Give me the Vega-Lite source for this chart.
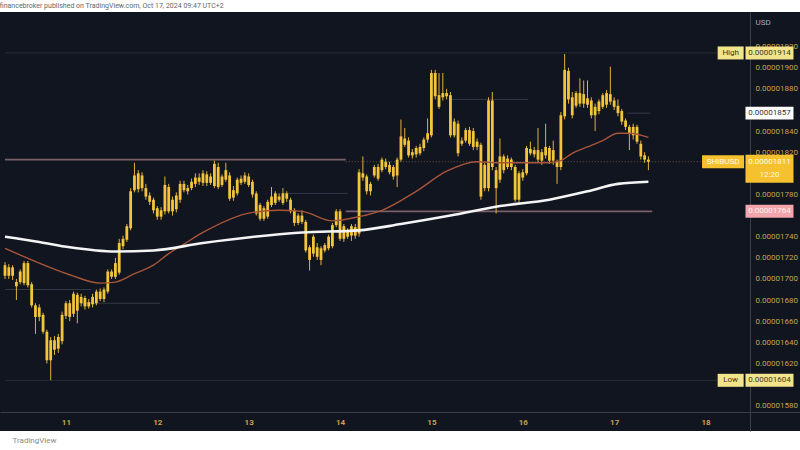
{
  "$schema": "https://vega.github.io/schema/vega-lite/v6.json",
  "width": 800,
  "height": 419,
  "autosize": {"type": "none"},
  "padding": {"left": 0, "top": 12, "right": 0, "bottom": 19},
  "background": "#ffffff",
  "config": {"view": {"fill": "#11151f", "stroke": null}, "font": "Roboto", "axis": {"labelOverlap": false}},
  "title": {"text": "financebroker published on TradingView.com, Oct 17, 2024 09:47 UTC+2", "anchor": "start", "fontSize": 7, "fontWeight": "normal", "color": "#666666", "offset": 3},
  "resolve": {"scale": {"color": "independent"}},
  "datasets": {
    "candles": [
      {"hour": -16, "open": 0.00001713, "high": 0.00001716, "low": 0.000017, "close": 0.00001703},
      {"hour": -15, "open": 0.00001703, "high": 0.00001714, "low": 0.000017, "close": 0.00001711},
      {"hour": -14, "open": 0.00001711, "high": 0.00001713, "low": 0.00001699, "close": 0.00001703},
      {"hour": -13, "open": 0.00001697, "high": 0.000017, "low": 0.0000168, "close": 0.00001693},
      {"hour": -12, "open": 0.00001697, "high": 0.00001709, "low": 0.00001695, "close": 0.00001707},
      {"hour": -11, "open": 0.00001696, "high": 0.00001717, "low": 0.00001694, "close": 0.00001715},
      {"hour": -10, "open": 0.00001715, "high": 0.00001717, "low": 0.00001692, "close": 0.00001694},
      {"hour": -9, "open": 0.00001695, "high": 0.00001697, "low": 0.00001673, "close": 0.00001675},
      {"hour": -8, "open": 0.00001675, "high": 0.00001677, "low": 0.00001648, "close": 0.00001664},
      {"hour": -7, "open": 0.00001664, "high": 0.00001676, "low": 0.0000166, "close": 0.00001673},
      {"hour": -6, "open": 0.00001666, "high": 0.00001668, "low": 0.00001648, "close": 0.0000165},
      {"hour": -5, "open": 0.0000165, "high": 0.00001652, "low": 0.0000162, "close": 0.00001623},
      {"hour": -4, "open": 0.00001623, "high": 0.00001645, "low": 0.00001604, "close": 0.00001642},
      {"hour": -3, "open": 0.00001642, "high": 0.00001646, "low": 0.00001628, "close": 0.00001633},
      {"hour": -2, "open": 0.00001634, "high": 0.00001648, "low": 0.0000163, "close": 0.00001645},
      {"hour": -1, "open": 0.00001641, "high": 0.00001669, "low": 0.00001638, "close": 0.00001666},
      {"hour": 0, "open": 0.00001665, "high": 0.00001679, "low": 0.00001662, "close": 0.00001677},
      {"hour": 1, "open": 0.00001677, "high": 0.0000168, "low": 0.0000166, "close": 0.00001664},
      {"hour": 2, "open": 0.00001667, "high": 0.00001688, "low": 0.00001664, "close": 0.00001686},
      {"hour": 3, "open": 0.00001685, "high": 0.00001687, "low": 0.00001658, "close": 0.0000167},
      {"hour": 4, "open": 0.00001677, "high": 0.00001686, "low": 0.00001674, "close": 0.00001683},
      {"hour": 5, "open": 0.00001682, "high": 0.00001684, "low": 0.00001671, "close": 0.00001674},
      {"hour": 6, "open": 0.00001674, "high": 0.00001681, "low": 0.00001672, "close": 0.00001678},
      {"hour": 7, "open": 0.00001676, "high": 0.00001686, "low": 0.00001673, "close": 0.00001683},
      {"hour": 8, "open": 0.00001677, "high": 0.0000169, "low": 0.00001675, "close": 0.00001688},
      {"hour": 9, "open": 0.00001688, "high": 0.00001691, "low": 0.00001679, "close": 0.00001681},
      {"hour": 10, "open": 0.00001681, "high": 0.00001692, "low": 0.00001678, "close": 0.0000169},
      {"hour": 11, "open": 0.00001688, "high": 0.00001709, "low": 0.00001686, "close": 0.00001707},
      {"hour": 12, "open": 0.00001707, "high": 0.00001709, "low": 0.000017, "close": 0.00001702},
      {"hour": 13, "open": 0.00001702, "high": 0.0000172, "low": 0.000017, "close": 0.00001715},
      {"hour": 14, "open": 0.00001706, "high": 0.00001738, "low": 0.00001704, "close": 0.00001734},
      {"hour": 15, "open": 0.00001731, "high": 0.00001741, "low": 0.00001728, "close": 0.00001738},
      {"hour": 16, "open": 0.00001737, "high": 0.00001752, "low": 0.00001735, "close": 0.0000175},
      {"hour": 17, "open": 0.00001748, "high": 0.00001786, "low": 0.00001746, "close": 0.00001783},
      {"hour": 18, "open": 0.00001784, "high": 0.0000181, "low": 0.00001782, "close": 0.00001798},
      {"hour": 19, "open": 0.000018, "high": 0.00001803, "low": 0.00001782, "close": 0.00001785},
      {"hour": 20, "open": 0.00001786, "high": 0.00001801, "low": 0.00001783, "close": 0.00001798},
      {"hour": 21, "open": 0.00001786, "high": 0.0000179, "low": 0.00001775, "close": 0.00001778},
      {"hour": 22, "open": 0.00001779, "high": 0.00001782, "low": 0.0000177, "close": 0.00001773},
      {"hour": 23, "open": 0.00001775, "high": 0.00001777, "low": 0.00001762, "close": 0.00001765},
      {"hour": 24, "open": 0.00001767, "high": 0.00001769, "low": 0.00001756, "close": 0.00001759},
      {"hour": 25, "open": 0.00001759, "high": 0.00001768, "low": 0.00001756, "close": 0.00001765},
      {"hour": 26, "open": 0.00001764, "high": 0.00001797, "low": 0.00001761, "close": 0.00001789},
      {"hour": 27, "open": 0.00001787, "high": 0.0000179, "low": 0.00001762, "close": 0.00001764},
      {"hour": 28, "open": 0.00001764, "high": 0.00001778, "low": 0.0000176, "close": 0.00001775},
      {"hour": 29, "open": 0.00001766, "high": 0.00001782, "low": 0.00001763, "close": 0.00001779},
      {"hour": 30, "open": 0.00001775, "high": 0.00001793, "low": 0.00001772, "close": 0.0000179},
      {"hour": 31, "open": 0.0000179, "high": 0.00001793, "low": 0.00001782, "close": 0.00001784},
      {"hour": 32, "open": 0.00001783, "high": 0.00001789, "low": 0.0000178, "close": 0.00001786},
      {"hour": 33, "open": 0.00001786, "high": 0.00001795, "low": 0.00001784, "close": 0.00001792},
      {"hour": 34, "open": 0.0000179, "high": 0.000018, "low": 0.00001787, "close": 0.00001796},
      {"hour": 35, "open": 0.00001796, "high": 0.000018, "low": 0.00001789, "close": 0.00001792},
      {"hour": 36, "open": 0.00001791, "high": 0.00001803, "low": 0.00001788, "close": 0.000018},
      {"hour": 37, "open": 0.00001799, "high": 0.00001802, "low": 0.00001788, "close": 0.00001791},
      {"hour": 38, "open": 0.00001791, "high": 0.000018, "low": 0.00001789, "close": 0.00001797},
      {"hour": 39, "open": 0.00001788, "high": 0.00001812, "low": 0.00001786, "close": 0.00001809},
      {"hour": 40, "open": 0.00001806, "high": 0.0000181, "low": 0.00001785, "close": 0.00001787},
      {"hour": 41, "open": 0.00001789, "high": 0.00001799, "low": 0.00001787, "close": 0.00001797},
      {"hour": 42, "open": 0.00001794, "high": 0.0000181, "low": 0.00001792, "close": 0.00001803},
      {"hour": 43, "open": 0.00001798, "high": 0.00001801, "low": 0.00001774, "close": 0.00001776},
      {"hour": 44, "open": 0.00001777, "high": 0.00001788, "low": 0.00001774, "close": 0.00001784},
      {"hour": 45, "open": 0.00001781, "high": 0.00001796, "low": 0.00001779, "close": 0.00001794},
      {"hour": 46, "open": 0.00001791, "high": 0.00001798, "low": 0.00001789, "close": 0.00001795},
      {"hour": 47, "open": 0.00001792, "high": 0.00001801, "low": 0.0000179, "close": 0.00001798},
      {"hour": 48, "open": 0.00001797, "high": 0.000018, "low": 0.00001787, "close": 0.00001789},
      {"hour": 49, "open": 0.00001792, "high": 0.00001794, "low": 0.00001777, "close": 0.0000178},
      {"hour": 50, "open": 0.00001781, "high": 0.00001783, "low": 0.0000176, "close": 0.00001762},
      {"hour": 51, "open": 0.0000177, "high": 0.00001772, "low": 0.00001755, "close": 0.00001757},
      {"hour": 52, "open": 0.00001757, "high": 0.00001769, "low": 0.00001755, "close": 0.00001767},
      {"hour": 53, "open": 0.00001759, "high": 0.00001775, "low": 0.00001757, "close": 0.00001773},
      {"hour": 54, "open": 0.0000177, "high": 0.00001787, "low": 0.00001768, "close": 0.00001778},
      {"hour": 55, "open": 0.00001772, "high": 0.00001783, "low": 0.0000177, "close": 0.00001781},
      {"hour": 56, "open": 0.00001778, "high": 0.00001781, "low": 0.00001773, "close": 0.00001775},
      {"hour": 57, "open": 0.00001772, "high": 0.00001786, "low": 0.0000177, "close": 0.00001781},
      {"hour": 58, "open": 0.00001781, "high": 0.00001783, "low": 0.00001773, "close": 0.00001776},
      {"hour": 59, "open": 0.00001775, "high": 0.00001777, "low": 0.00001762, "close": 0.00001764},
      {"hour": 60, "open": 0.00001765, "high": 0.00001767, "low": 0.0000175, "close": 0.00001753},
      {"hour": 61, "open": 0.00001753, "high": 0.00001762, "low": 0.00001751, "close": 0.0000176},
      {"hour": 62, "open": 0.0000176, "high": 0.00001765, "low": 0.00001752, "close": 0.00001754},
      {"hour": 63, "open": 0.00001754, "high": 0.00001756, "low": 0.00001725, "close": 0.00001727},
      {"hour": 64, "open": 0.0000173, "high": 0.00001732, "low": 0.00001708, "close": 0.00001718},
      {"hour": 65, "open": 0.00001724, "high": 0.00001742, "low": 0.00001721, "close": 0.0000174},
      {"hour": 66, "open": 0.0000173, "high": 0.00001734, "low": 0.00001718, "close": 0.00001721},
      {"hour": 67, "open": 0.00001729, "high": 0.00001731, "low": 0.00001713, "close": 0.00001718},
      {"hour": 68, "open": 0.00001727, "high": 0.00001734, "low": 0.00001725, "close": 0.00001732},
      {"hour": 69, "open": 0.00001729, "high": 0.00001742, "low": 0.00001727, "close": 0.0000174},
      {"hour": 70, "open": 0.00001731, "high": 0.00001753, "low": 0.00001729, "close": 0.00001751},
      {"hour": 71, "open": 0.00001751, "high": 0.00001766, "low": 0.00001749, "close": 0.00001764},
      {"hour": 72, "open": 0.00001764, "high": 0.00001766, "low": 0.00001736, "close": 0.00001738},
      {"hour": 73, "open": 0.00001738, "high": 0.00001752, "low": 0.00001735, "close": 0.0000175},
      {"hour": 74, "open": 0.00001746, "high": 0.00001748, "low": 0.00001738, "close": 0.0000174},
      {"hour": 75, "open": 0.00001741, "high": 0.00001752, "low": 0.00001736, "close": 0.0000175},
      {"hour": 76, "open": 0.00001749, "high": 0.00001752, "low": 0.00001738, "close": 0.00001741},
      {"hour": 77, "open": 0.00001743, "high": 0.00001804, "low": 0.0000174, "close": 0.00001801},
      {"hour": 78, "open": 0.00001796, "high": 0.00001816, "low": 0.00001793, "close": 0.000018},
      {"hour": 79, "open": 0.00001797, "high": 0.00001799, "low": 0.0000178, "close": 0.00001783},
      {"hour": 80, "open": 0.00001783, "high": 0.00001792, "low": 0.00001779, "close": 0.0000179},
      {"hour": 81, "open": 0.00001798, "high": 0.00001808, "low": 0.00001796, "close": 0.00001806},
      {"hour": 82, "open": 0.00001806, "high": 0.00001809, "low": 0.00001793, "close": 0.00001795},
      {"hour": 83, "open": 0.00001803, "high": 0.00001815, "low": 0.00001801, "close": 0.00001813},
      {"hour": 84, "open": 0.00001811, "high": 0.00001814, "low": 0.00001804, "close": 0.00001806},
      {"hour": 85, "open": 0.00001808, "high": 0.00001811, "low": 0.00001799, "close": 0.00001801},
      {"hour": 86, "open": 0.00001806, "high": 0.00001808, "low": 0.00001794, "close": 0.00001797},
      {"hour": 87, "open": 0.00001798, "high": 0.00001815, "low": 0.00001787, "close": 0.00001813},
      {"hour": 88, "open": 0.00001813, "high": 0.00001851, "low": 0.00001811, "close": 0.00001835},
      {"hour": 89, "open": 0.00001833, "high": 0.00001843, "low": 0.00001825, "close": 0.00001827},
      {"hour": 90, "open": 0.00001831, "high": 0.00001834, "low": 0.00001815, "close": 0.00001817},
      {"hour": 91, "open": 0.00001817, "high": 0.00001823, "low": 0.00001814, "close": 0.0000182},
      {"hour": 92, "open": 0.00001818, "high": 0.00001826, "low": 0.00001815, "close": 0.00001824},
      {"hour": 93, "open": 0.00001819, "high": 0.00001828, "low": 0.00001817, "close": 0.00001825},
      {"hour": 94, "open": 0.00001824, "high": 0.00001834, "low": 0.00001821, "close": 0.00001832},
      {"hour": 95, "open": 0.00001832, "high": 0.00001852, "low": 0.00001829, "close": 0.00001838},
      {"hour": 96, "open": 0.00001836, "high": 0.00001898, "low": 0.00001834, "close": 0.00001895},
      {"hour": 97, "open": 0.00001895, "high": 0.00001898, "low": 0.0000187, "close": 0.00001873},
      {"hour": 98, "open": 0.00001874, "high": 0.00001895, "low": 0.00001861, "close": 0.00001863},
      {"hour": 99, "open": 0.00001872, "high": 0.00001895, "low": 0.00001869, "close": 0.00001876},
      {"hour": 100, "open": 0.00001876, "high": 0.0000188, "low": 0.0000187, "close": 0.00001873},
      {"hour": 101, "open": 0.00001874, "high": 0.00001877, "low": 0.00001834, "close": 0.00001836},
      {"hour": 102, "open": 0.00001836, "high": 0.00001852, "low": 0.00001834, "close": 0.00001849},
      {"hour": 103, "open": 0.00001847, "high": 0.0000185, "low": 0.00001816, "close": 0.00001819},
      {"hour": 104, "open": 0.00001828, "high": 0.00001834, "low": 0.00001826, "close": 0.00001831},
      {"hour": 105, "open": 0.00001831, "high": 0.00001843, "low": 0.00001829, "close": 0.00001841},
      {"hour": 106, "open": 0.00001841, "high": 0.00001844, "low": 0.00001826, "close": 0.00001828},
      {"hour": 107, "open": 0.0000184, "high": 0.00001843, "low": 0.00001822, "close": 0.00001825},
      {"hour": 108, "open": 0.00001825, "high": 0.00001833, "low": 0.00001822, "close": 0.0000183},
      {"hour": 109, "open": 0.00001827, "high": 0.00001829, "low": 0.00001775, "close": 0.00001778},
      {"hour": 110, "open": 0.00001786, "high": 0.0000181, "low": 0.00001783, "close": 0.00001808},
      {"hour": 111, "open": 0.00001786, "high": 0.00001872, "low": 0.00001783, "close": 0.00001869},
      {"hour": 112, "open": 0.00001869, "high": 0.00001877, "low": 0.00001803, "close": 0.00001806},
      {"hour": 113, "open": 0.00001803, "high": 0.00001806, "low": 0.00001762, "close": 0.00001786},
      {"hour": 114, "open": 0.00001794, "high": 0.00001833, "low": 0.00001791, "close": 0.00001816},
      {"hour": 115, "open": 0.00001816, "high": 0.00001818, "low": 0.000018, "close": 0.00001803},
      {"hour": 116, "open": 0.00001806, "high": 0.00001817, "low": 0.00001804, "close": 0.00001814},
      {"hour": 117, "open": 0.00001813, "high": 0.00001815, "low": 0.00001803, "close": 0.00001806},
      {"hour": 118, "open": 0.00001806, "high": 0.00001808, "low": 0.00001773, "close": 0.00001775},
      {"hour": 119, "open": 0.00001775, "high": 0.00001802, "low": 0.00001772, "close": 0.000018},
      {"hour": 120, "open": 0.00001796, "high": 0.00001804, "low": 0.00001793, "close": 0.00001801},
      {"hour": 121, "open": 0.000018, "high": 0.00001826, "low": 0.00001798, "close": 0.00001824},
      {"hour": 122, "open": 0.00001823, "high": 0.0000183, "low": 0.00001817, "close": 0.00001819},
      {"hour": 123, "open": 0.00001818, "high": 0.00001825, "low": 0.00001815, "close": 0.00001822},
      {"hour": 124, "open": 0.00001822, "high": 0.00001843, "low": 0.0000181, "close": 0.00001813},
      {"hour": 125, "open": 0.00001812, "high": 0.00001823, "low": 0.00001808, "close": 0.0000182},
      {"hour": 126, "open": 0.00001817, "high": 0.00001847, "low": 0.00001814, "close": 0.00001825},
      {"hour": 127, "open": 0.00001824, "high": 0.00001826, "low": 0.00001809, "close": 0.00001812},
      {"hour": 128, "open": 0.00001812, "high": 0.00001831, "low": 0.00001808, "close": 0.00001822},
      {"hour": 129, "open": 0.00001811, "high": 0.00001813, "low": 0.0000179, "close": 0.00001806},
      {"hour": 130, "open": 0.00001806, "high": 0.00001858, "low": 0.00001803, "close": 0.00001855},
      {"hour": 131, "open": 0.00001854, "high": 0.00001913, "low": 0.00001851, "close": 0.00001898},
      {"hour": 132, "open": 0.00001897, "high": 0.000019, "low": 0.00001866, "close": 0.0000187},
      {"hour": 133, "open": 0.00001872, "high": 0.00001877, "low": 0.00001852, "close": 0.00001855},
      {"hour": 134, "open": 0.00001864, "high": 0.00001878, "low": 0.00001862, "close": 0.00001876},
      {"hour": 135, "open": 0.00001876, "high": 0.0000189, "low": 0.00001863, "close": 0.00001866},
      {"hour": 136, "open": 0.00001866, "high": 0.00001888, "low": 0.00001862, "close": 0.00001875},
      {"hour": 137, "open": 0.00001871, "high": 0.00001888, "low": 0.00001862, "close": 0.00001865},
      {"hour": 138, "open": 0.00001869, "high": 0.00001872, "low": 0.00001852, "close": 0.00001855},
      {"hour": 139, "open": 0.00001855, "high": 0.00001866, "low": 0.0000184, "close": 0.00001863},
      {"hour": 140, "open": 0.00001859, "high": 0.0000187, "low": 0.00001856, "close": 0.00001868},
      {"hour": 141, "open": 0.00001863, "high": 0.00001876, "low": 0.00001861, "close": 0.00001874},
      {"hour": 142, "open": 0.00001865, "high": 0.00001879, "low": 0.00001862, "close": 0.00001876},
      {"hour": 143, "open": 0.00001875, "high": 0.00001901, "low": 0.00001865, "close": 0.00001868},
      {"hour": 144, "open": 0.00001869, "high": 0.00001872, "low": 0.0000186, "close": 0.00001863},
      {"hour": 145, "open": 0.00001864, "high": 0.0000187, "low": 0.00001854, "close": 0.00001857},
      {"hour": 146, "open": 0.00001859, "high": 0.00001861, "low": 0.00001846, "close": 0.00001849},
      {"hour": 147, "open": 0.0000185, "high": 0.00001852, "low": 0.00001841, "close": 0.00001844},
      {"hour": 148, "open": 0.00001844, "high": 0.00001846, "low": 0.00001822, "close": 0.00001838},
      {"hour": 149, "open": 0.00001836, "high": 0.00001847, "low": 0.00001832, "close": 0.00001844},
      {"hour": 150, "open": 0.00001844, "high": 0.00001846, "low": 0.00001828, "close": 0.0000183},
      {"hour": 151, "open": 0.00001828, "high": 0.00001831, "low": 0.00001813, "close": 0.00001816},
      {"hour": 152, "open": 0.00001817, "high": 0.0000182, "low": 0.0000181, "close": 0.00001813},
      {"hour": 153, "open": 0.00001813, "high": 0.00001816, "low": 0.00001803, "close": 0.00001811}
    ],
    "ema": [
      {"hour": -16, "value": 0.00001729, "series": "EMA 50"},
      {"hour": -7, "value": 0.00001715, "series": "EMA 50"},
      {"hour": 1, "value": 0.00001704, "series": "EMA 50"},
      {"hour": 9, "value": 0.00001696, "series": "EMA 50"},
      {"hour": 13, "value": 0.00001697, "series": "EMA 50"},
      {"hour": 18, "value": 0.00001705, "series": "EMA 50"},
      {"hour": 23, "value": 0.00001713, "series": "EMA 50"},
      {"hour": 27, "value": 0.00001724, "series": "EMA 50"},
      {"hour": 31, "value": 0.00001733, "series": "EMA 50"},
      {"hour": 36, "value": 0.00001744, "series": "EMA 50"},
      {"hour": 49, "value": 0.00001763, "series": "EMA 50"},
      {"hour": 56, "value": 0.00001765, "series": "EMA 50"},
      {"hour": 62, "value": 0.00001764, "series": "EMA 50"},
      {"hour": 70, "value": 0.00001755, "series": "EMA 50"},
      {"hour": 77, "value": 0.00001759, "series": "EMA 50"},
      {"hour": 83, "value": 0.00001765, "series": "EMA 50"},
      {"hour": 92, "value": 0.00001783, "series": "EMA 50"},
      {"hour": 100, "value": 0.00001802, "series": "EMA 50"},
      {"hour": 108, "value": 0.00001811, "series": "EMA 50"},
      {"hour": 114, "value": 0.0000181, "series": "EMA 50"},
      {"hour": 127, "value": 0.0000181, "series": "EMA 50"},
      {"hour": 130, "value": 0.00001812, "series": "EMA 50"},
      {"hour": 133, "value": 0.00001819, "series": "EMA 50"},
      {"hour": 137, "value": 0.00001825, "series": "EMA 50"},
      {"hour": 141, "value": 0.00001831, "series": "EMA 50"},
      {"hour": 145, "value": 0.00001838, "series": "EMA 50"},
      {"hour": 148, "value": 0.00001838, "series": "EMA 50"},
      {"hour": 153, "value": 0.00001834, "series": "EMA 50"},
      {"hour": -16, "value": 0.0000174, "series": "EMA 200"},
      {"hour": -7, "value": 0.00001735, "series": "EMA 200"},
      {"hour": 1, "value": 0.0000173, "series": "EMA 200"},
      {"hour": 13, "value": 0.00001726, "series": "EMA 200"},
      {"hour": 23, "value": 0.00001727, "series": "EMA 200"},
      {"hour": 36, "value": 0.00001734, "series": "EMA 200"},
      {"hour": 62, "value": 0.00001744, "series": "EMA 200"},
      {"hour": 77, "value": 0.00001746, "series": "EMA 200"},
      {"hour": 88, "value": 0.00001752, "series": "EMA 200"},
      {"hour": 101, "value": 0.0000176, "series": "EMA 200"},
      {"hour": 114, "value": 0.00001769, "series": "EMA 200"},
      {"hour": 127, "value": 0.00001775, "series": "EMA 200"},
      {"hour": 137, "value": 0.00001783, "series": "EMA 200"},
      {"hour": 145, "value": 0.0000179, "series": "EMA 200"},
      {"hour": 153, "value": 0.00001792, "series": "EMA 200"}
    ],
    "levels": [
      {"start": -16, "end": 73.5, "value": 0.00001813, "kind": "resistance"},
      {"start": 73.5, "end": 154, "value": 0.00001764, "kind": "support"},
      {"start": 101.5, "end": 121.4, "value": 0.0000187, "kind": "faint"},
      {"start": 147.3, "end": 153.5, "value": 0.00001857, "kind": "faint"},
      {"start": -16, "end": 6.6, "value": 0.0000169, "kind": "faint"},
      {"start": 4, "end": 24.7, "value": 0.00001677, "kind": "faint"},
      {"start": 56.6, "end": 74, "value": 0.00001781, "kind": "faint"},
      {"start": -16, "end": 171, "value": 0.00001914, "kind": "extreme"},
      {"start": -16, "end": 171, "value": 0.00001604, "kind": "extreme"}
    ],
    "prices": [
      {"label": "0.00001914", "value": 0.00001914, "kind": "high"},
      {"label": "0.00001857", "value": 0.00001857, "kind": "level"},
      {"label": "0.00001811", "value": 0.00001811, "kind": "last"},
      {"label": "0.00001764", "value": 0.00001764, "kind": "support"},
      {"label": "0.00001604", "value": 0.00001604, "kind": "low"}
    ],
    "tags": [
      {"label": "High", "value": 0.00001914, "kind": "high"},
      {"label": "SHIBUSD", "value": 0.00001811, "kind": "last"},
      {"label": "Low", "value": 0.00001604, "kind": "low"}
    ]
  },
  "encoding": {
    "x": {"type": "quantitative", "scale": {"domain": [-16, 191.5], "nice": false, "zero": false},
      "axis": {"orient": "bottom", "offset": -19, "values": [0, 24, 48, 72, 96, 120, 144, 168], "labelExpr": "'' + (11 + datum.value / 24)", "labelColor": "#c9a34b", "labelFontSize": 8, "labelFontWeight": "bold", "labelPadding": 6, "labelFlush": false, "labelOverlap": false, "ticks": false, "grid": false, "domainColor": "#3a3e4a", "title": "TradingView", "titleColor": "#8a8a8a", "titleFontSize": 8, "titleFontWeight": "normal", "titleAnchor": "start", "titleAlign": "left", "titleBaseline": "middle", "titleX": 12, "titleY": 28}},
    "y": {"type": "quantitative", "scale": {"domain": [0.00001556, 0.0000195278], "nice": false, "zero": false},
      "axis": {"orient": "right", "offset": -50, "values": [0.0000158, 0.0000162, 0.0000164, 0.0000166, 0.0000168, 0.000017, 0.0000172, 0.0000174, 0.0000178, 0.0000182, 0.0000184, 0.0000188, 0.000019, 0.0000192], "format": ".8f", "labelColor": "#c9a34b", "labelFontSize": 8, "labelPadding": 5, "labelOverlap": false, "labelBound": false, "labelFlush": false, "ticks": false, "grid": false, "domainColor": "#3a3e4a", "title": "USD", "titleColor": "#a9acb5", "titleFontSize": 8, "titleFontWeight": "normal", "titleAngle": 0, "titleAlign": "left", "titleBaseline": "middle", "titleX": 5, "titleY": 10}}
  },
  "layer": [
    {
      "mark": {"type": "rect", "color": "#1a1f2c"},
      "encoding": {
        "x": {"datum": 25.5, "type": "quantitative"},
        "x2": {"datum": 74},
        "y": {"datum": 0.0000195278, "type": "quantitative"},
        "y2": {"datum": 0.0000157494}
      }
    },
    {
      "data": {"name": "levels"},
      "transform": [{"filter": "datum.kind === 'extreme'"}],
      "mark": {"type": "rule", "color": "#262b38", "strokeWidth": 1},
      "encoding": {"x": {"field": "start"}, "x2": {"field": "end"}, "y": {"field": "value"}}
    },
    {
      "data": {"name": "levels"},
      "transform": [{"filter": "datum.kind === 'faint'"}],
      "mark": {"type": "rule", "color": "#343a4a", "strokeWidth": 1},
      "encoding": {"x": {"field": "start"}, "x2": {"field": "end"}, "y": {"field": "value"}}
    },
    {
      "data": {"name": "levels"},
      "transform": [{"filter": "datum.kind === 'resistance' || datum.kind === 'support'"}],
      "mark": {"type": "rule", "color": "#7a6068", "strokeWidth": 1.6},
      "encoding": {"x": {"field": "start"}, "x2": {"field": "end"}, "y": {"field": "value"}}
    },
    {
      "data": {"name": "prices"},
      "transform": [{"filter": "datum.kind === 'last'"}],
      "mark": {"type": "rule", "color": "#6a5a3e", "strokeWidth": 1, "strokeDash": [1, 2]},
      "encoding": {"x": {"datum": 73.5}, "x2": {"datum": 178.5}, "y": {"field": "value"}}
    },
    {
      "data": {"name": "candles"},
      "mark": {"type": "rule", "color": "#e0b23a", "strokeWidth": 1},
      "encoding": {"x": {"field": "hour"}, "y": {"field": "low"}, "y2": {"field": "high"}}
    },
    {
      "data": {"name": "candles"},
      "mark": {"type": "bar", "color": "#f3c53a", "width": 2.8},
      "encoding": {"x": {"field": "hour"}, "y": {"field": "open"}, "y2": {"field": "close"}}
    },
    {
      "data": {"name": "ema"},
      "transform": [{"filter": "datum.series === 'EMA 50'"}],
      "mark": {"type": "line", "color": "#a8553a", "strokeWidth": 1.4, "interpolate": "monotone"},
      "encoding": {"x": {"field": "hour"}, "y": {"field": "value"}}
    },
    {
      "data": {"name": "ema"},
      "transform": [{"filter": "datum.series === 'EMA 200'"}],
      "mark": {"type": "line", "color": "#f4f4f4", "strokeWidth": 2.6, "interpolate": "monotone"},
      "encoding": {"x": {"field": "hour"}, "y": {"field": "value"}}
    },
    {
      "mark": {"type": "text", "align": "left", "baseline": "middle", "fontSize": 7, "fontWeight": "bold", "color": "#d6b04a"},
      "encoding": {"x": {"datum": -15.3}, "y": {"datum": 0.000019452}, "text": {"value": "SHIBA INU / US Dollar, 1h, COINBASE"}}
    },
    {
      "data": {"name": "prices"},
      "transform": [{"filter": "datum.kind !== 'last'"}],
      "mark": {"type": "point", "filled": true, "opacity": 1, "size": 2304, "shape": "M-1,-0.27L1,-0.27L1,0.27L-1,0.27Z"},
      "encoding": {
        "x": {"datum": 184.8},
        "y": {"field": "value"},
        "fill": {"field": "kind", "type": "nominal", "legend": null, "scale": {"domain": ["high", "level", "last", "support", "low"], "range": ["#f1e48a", "#ffffff", "#f6c12e", "#f2a6ab", "#f1e48a"]}}
      }
    },
    {
      "data": {"name": "prices"},
      "transform": [{"filter": "datum.kind === 'last'"}],
      "mark": {"type": "point", "filled": true, "opacity": 1, "size": 2304, "color": "#f6c12e", "shape": "M-1,-0.29L1,-0.29L1,0.875L-1,0.875Z"},
      "encoding": {"x": {"datum": 184.8}, "y": {"field": "value"}}
    },
    {
      "data": {"name": "tags"},
      "transform": [{"filter": "datum.kind !== 'last'"}],
      "mark": {"type": "point", "filled": true, "opacity": 1, "size": 676, "color": "#f1e48a", "shape": "M-1,-0.5L1,-0.5L1,0.5L-1,0.5Z"},
      "encoding": {"x": {"datum": 174.6}, "y": {"field": "value"}}
    },
    {
      "data": {"name": "tags"},
      "transform": [{"filter": "datum.kind === 'last'"}],
      "mark": {"type": "point", "filled": true, "opacity": 1, "size": 1764, "color": "#f6c12e", "shape": "M-1,-0.31L1,-0.31L1,0.31L-1,0.31Z"},
      "encoding": {"x": {"datum": 172.6}, "y": {"field": "value"}}
    },
    {
      "data": {"name": "prices"},
      "mark": {"type": "text", "align": "center", "baseline": "middle", "fontSize": 8},
      "encoding": {
        "x": {"datum": 184.8},
        "y": {"field": "value"},
        "text": {"field": "label"},
        "color": {"field": "kind", "type": "nominal", "legend": null, "scale": {"domain": ["high", "level", "last", "support", "low"], "range": ["#3a3a2a", "#333333", "#fffbe8", "#fff0f0", "#3a3a2a"]}}
      }
    },
    {
      "data": {"name": "prices"},
      "transform": [{"filter": "datum.kind === 'last'"}],
      "mark": {"type": "text", "align": "center", "baseline": "middle", "fontSize": 8, "dy": 13, "color": "#fffbe8"},
      "encoding": {"x": {"datum": 184.8}, "y": {"field": "value"}, "text": {"value": "12:20"}}
    },
    {
      "data": {"name": "tags"},
      "transform": [{"filter": "datum.kind !== 'last'"}],
      "mark": {"type": "text", "align": "center", "baseline": "middle", "fontSize": 8, "color": "#3a3a2a"},
      "encoding": {"x": {"datum": 174.6}, "y": {"field": "value"}, "text": {"field": "label"}}
    },
    {
      "data": {"name": "tags"},
      "transform": [{"filter": "datum.kind === 'last'"}],
      "mark": {"type": "text", "align": "center", "baseline": "middle", "fontSize": 8, "color": "#fffbe8"},
      "encoding": {"x": {"datum": 172.6}, "y": {"field": "value"}, "text": {"field": "label"}}
    }
  ]
}
